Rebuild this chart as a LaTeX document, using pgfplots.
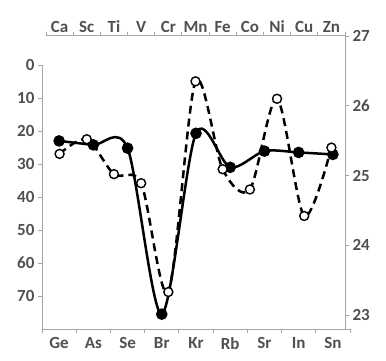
\documentclass[border=0pt]{standalone}
\usepackage{fontspec}
\setmainfont{Carlito}
\usepackage{pgfplots}
\pgfplotsset{compat=1.18}
\definecolor{axgray}{RGB}{165,165,165}
\definecolor{txtgray}{RGB}{80,80,80}

\pgfplotsset{
  chem/.style={
    scale only axis,
    anchor=south west,
    axis line style={-, axgray, line width=1pt},
    tick style={axgray, line width=0.9pt},
    major tick length=4pt,
    tick align=outside,
    tick label style={font=\fontsize{17}{19}\selectfont\bfseries, text=txtgray},
    /pgf/number format/assume math mode=true,
    clip=false,
  }
}

\begin{document}
\begin{tikzpicture}
\path[use as bounding box] (0pt,0pt) rectangle (386pt,361pt);

% bottom / left: solid, filled marks
\begin{axis}[chem, at={(42pt,32pt)}, width=308pt, height=264pt,
  axis x line*=bottom, axis y line*=left,
  xmin=-0.5, xmax=8.5, ymin=0, ymax=80, y dir=reverse,
  xtick={-0.5,0.5,...,8.5}, xticklabels={},
  extra x ticks={0,...,8},
  extra x tick labels={Ge,As,Se,Br,Kr,Rb,Sr,In,Sn},
  extra x tick style={major tick length=0pt, tick label style={yshift=-5pt}},
  ytick={0,10,...,70},
]
\addplot[black, line width=2.5pt, smooth, mark=*, mark size=4.5pt]
  coordinates {(0,23.0) (1,24.2) (2,25.2) (3,75.5) (4,20.7) (5,31.0) (6,26.1) (7,26.5) (8,27.1)};
\end{axis}

% top / right: dashed, open marks
\begin{axis}[chem, at={(46pt,32pt)}, width=299pt, height=293pt,
  axis x line*=top, axis y line*=right,
  xmin=-0.5, xmax=10.5, ymin=22.8, ymax=27,
  xtick={-0.5,0.5,...,10.5}, xticklabels={},
  extra x ticks={0,...,10},
  extra x tick labels={Ca,Sc,Ti,V,Cr,Mn,Fe,Co,Ni,Cu,Zn},
  extra x tick style={major tick length=0pt},
  ytick={23,24,25,26,27},
]
\addplot[black, line width=2.5pt, dash pattern=on 8pt off 5pt, smooth,
  mark=*, mark size=4.5pt, mark options={solid, fill=white, line width=1.4pt}]
  coordinates {(0,25.31) (1,25.52) (2,25.02) (3,24.89) (4,23.33) (5,26.35) (6,25.09) (7,24.80) (8,26.10) (9,24.42) (10,25.40)};
\end{axis}
\end{tikzpicture}
\end{document}
